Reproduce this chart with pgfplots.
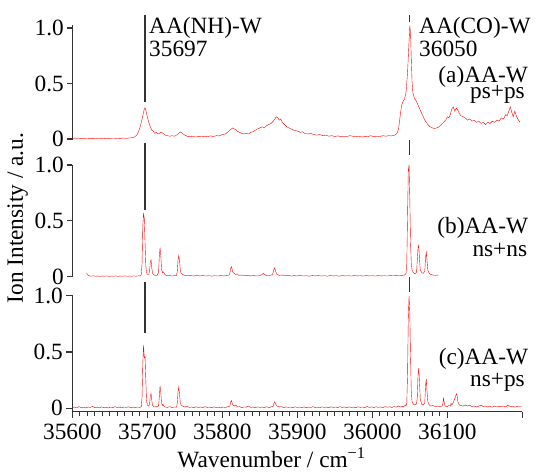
\documentclass[border=0pt]{standalone}
\usepackage{fontspec}
\setmainfont{Liberation Serif}
\usepackage{pgfplots}
\pgfplotsset{compat=1.18}
\newcommand\lf{\fontsize{23.4}{27}\selectfont}
\pgfplotsset{
  panel/.style={
    scale only axis, width=450bp,
    xmin=35600, xmax=36200,
    axis y line*=left,
    scaled x ticks=false, scaled y ticks=false,
    ytick={0,0.5,1}, yticklabels={\textrm{0},\textrm{0.5},\textrm{1.0}},
    tick align=outside,
    major tick length=5bp, minor tick length=4bp,
    axis line style={black!80, line width=1.2bp},
    every tick/.style={black!80, line width=1.2bp},
    ticklabel style={font=\lf},
    /pgf/number format/assume math mode=true,
    clip=false,
    cycle list={{red, line width=0.9bp, line join=round, mark=none}},
  },
  mk/.style={black!80, line width=1.3bp, mark=none},
}
\begin{document}
\begin{tikzpicture}[x=1bp,y=1bp]
% ---------------- panel (a) ----------------
\begin{axis}[panel, at={(0bp,333.45bp)}, anchor=south west,
  axis x line=none, xtick=\empty,
  height=114.9bp, ymin=-0.005, ymax=1.03]
\addplot table {
35600 0.005
35604 0.008
35608 0.004
35612 0.006
35616 0.003
35620 0.002
35624 0.004
35628 0.003
35632 0.005
35636 0.002
35640 0.004
35644 0.006
35648 0.003
35652 0.005
35656 0.004
35660 0.007
35664 0.005
35668 0.008
35672 0.006
35676 0.009
35680 0.012
35683 0.018
35686 0.035
35688 0.06
35690 0.10
35692 0.15
35694 0.21
35696 0.27
35697 0.28
35698 0.26
35700 0.20
35702 0.15
35704 0.11
35706 0.08
35708 0.07
35710 0.05
35712 0.06
35714 0.045
35716 0.05
35718 0.06
35720 0.055
35722 0.045
35724 0.035
35727 0.03
35730 0.025
35733 0.03
35736 0.025
35739 0.035
35742 0.05
35744 0.065
35746 0.055
35748 0.045
35750 0.035
35753 0.025
35756 0.02
35760 0.025
35764 0.018
35768 0.022
35772 0.02
35776 0.025
35780 0.02
35784 0.028
35788 0.022
35792 0.03
35796 0.028
35800 0.04
35804 0.045
35807 0.06
35810 0.08
35812 0.09
35814 0.10
35816 0.09
35818 0.085
35820 0.07
35823 0.06
35826 0.05
35829 0.045
35832 0.05
35835 0.045
35838 0.06
35841 0.065
35844 0.08
35847 0.09
35850 0.10
35853 0.11
35856 0.10
35859 0.12
35862 0.13
35865 0.14
35868 0.16
35870 0.18
35872 0.20
35874 0.19
35876 0.17
35878 0.18
35880 0.15
35883 0.13
35886 0.11
35889 0.10
35892 0.09
35895 0.08
35898 0.075
35901 0.07
35904 0.06
35907 0.065
35910 0.05
35914 0.045
35918 0.05
35922 0.04
35926 0.035
35930 0.04
35934 0.03
35938 0.035
35942 0.025
35946 0.03
35950 0.022
35954 0.028
35958 0.02
35962 0.025
35966 0.022
35970 0.03
35974 0.025
35978 0.02
35982 0.025
35986 0.018
35990 0.022
35994 0.02
35998 0.03
36002 0.02
36006 0.025
36010 0.022
36014 0.03
36018 0.025
36022 0.03
36026 0.028
36030 0.035
36033 0.05
36035 0.09
36037 0.20
36039 0.30
36041 0.34
36043 0.36
36045 0.42
36047 0.60
36049 0.88
36050 1.02
36051 0.95
36052 0.72
36053 0.52
36054 0.42
36056 0.37
36058 0.35
36060 0.32
36062 0.29
36064 0.26
36066 0.23
36068 0.20
36070 0.17
36072 0.15
36074 0.13
36077 0.11
36080 0.10
36083 0.095
36086 0.10
36089 0.11
36092 0.13
36095 0.15
36098 0.17
36100 0.20
36102 0.19
36104 0.22
36106 0.27
36108 0.29
36110 0.25
36112 0.28
36114 0.26
36116 0.23
36118 0.21
36121 0.20
36124 0.19
36127 0.17
36130 0.18
36133 0.16
36136 0.17
36139 0.15
36142 0.16
36145 0.14
36148 0.15
36151 0.13
36154 0.15
36157 0.14
36160 0.16
36163 0.15
36166 0.17
36169 0.16
36172 0.19
36175 0.18
36178 0.22
36180 0.21
36182 0.25
36184 0.29
36186 0.24
36188 0.20
36190 0.25
36192 0.21
36194 0.18
36197 0.15
};
\addplot[mk] coordinates {(35697,1.117) (35697,0.333)};
\addplot[mk] coordinates {(36050,1.117) (36050,1.054)};
\node[anchor=base west, inner sep=0, font=\lf] at (axis cs:35702.3,0.950) {AA(NH)-W};
\node[anchor=base west, inner sep=0, font=\lf] at (axis cs:35702.3,0.741) {35697};
\node[anchor=base west, inner sep=0, font=\lf] at (axis cs:36062.3,0.950) {AA(CO)-W};
\node[anchor=base west, inner sep=0, font=\lf] at (axis cs:36062.3,0.741) {36050};
\node[anchor=base east, inner sep=0, font=\lf] at (axis cs:36207.6,0.512) {(a)AA-W};
\node[anchor=base east, inner sep=0, font=\lf] at (axis cs:36203.6,0.362) {ps+ps};
\end{axis}
% ---------------- panel (b) ----------------
\begin{axis}[panel, at={(0bp,196.3bp)}, anchor=south west,
  axis x line=none, xtick=\empty,
  height=111.7bp, ymin=0, ymax=1]
\addplot table {
35619 0.035
35620 0.02
35622 0.008
35625 0.005
35628 0.008
35631 0.004
35634 0.006
35637 0.003
35640 0.006
35643 0.004
35646 0.007
35649 0.003
35652 0.006
35655 0.004
35658 0.007
35661 0.003
35664 0.006
35667 0.004
35670 0.007
35673 0.004
35676 0.006
35679 0.004
35682 0.007
35685 0.005
35688 0.007
35691 0.008
35692 0.02
35693 0.12
35694 0.45
35695 0.57
35696 0.52
35697 0.30
35698 0.10
35699 0.04
35700 0.02
35702 0.02
35703 0.05
35704 0.13
35705 0.15
35706 0.08
35707 0.03
35709 0.015
35711 0.01
35713 0.012
35715 0.04
35716 0.18
35717 0.26
35718 0.19
35719 0.07
35720 0.035
35721 0.045
35722 0.035
35724 0.015
35727 0.008
35730 0.01
35733 0.006
35736 0.009
35739 0.012
35740 0.05
35741 0.15
35742 0.19
35743 0.14
35744 0.06
35745 0.03
35747 0.02
35750 0.012
35754 0.008
35758 0.01
35762 0.006
35766 0.012
35770 0.007
35774 0.01
35778 0.006
35782 0.009
35786 0.005
35790 0.009
35794 0.006
35798 0.01
35802 0.007
35806 0.01
35809 0.015
35810 0.03
35811 0.07
35812 0.09
35813 0.07
35814 0.04
35816 0.03
35818 0.02
35820 0.025
35822 0.012
35826 0.015
35830 0.008
35834 0.012
35838 0.007
35842 0.01
35846 0.006
35850 0.01
35853 0.02
35855 0.03
35857 0.015
35860 0.01
35864 0.012
35867 0.02
35868 0.04
35869 0.07
35870 0.08
35871 0.05
35873 0.02
35876 0.012
35880 0.015
35884 0.008
35888 0.012
35892 0.006
35896 0.01
35900 0.007
35904 0.011
35908 0.006
35912 0.009
35916 0.005
35920 0.01
35924 0.007
35928 0.01
35932 0.006
35936 0.009
35940 0.005
35944 0.01
35948 0.007
35952 0.009
35956 0.005
35960 0.01
35964 0.007
35968 0.009
35972 0.006
35976 0.01
35980 0.007
35984 0.009
35988 0.006
35992 0.01
35996 0.007
36000 0.009
36004 0.006
36008 0.01
36012 0.007
36016 0.009
36020 0.006
36024 0.01
36028 0.008
36032 0.01
36036 0.008
36040 0.012
36043 0.015
36045 0.03
36046 0.12
36047 0.55
36048 0.95
36049 1.00
36050 0.70
36051 0.30
36052 0.12
36053 0.06
36055 0.035
36057 0.025
36059 0.04
36060 0.15
36061 0.26
36062 0.28
36063 0.15
36064 0.06
36066 0.035
36068 0.03
36070 0.05
36071 0.17
36072 0.22
36073 0.14
36074 0.06
36076 0.03
36078 0.02
36081 0.015
36084 0.012
36087 0.015
36088 0.01
};
\addplot[mk] coordinates {(35697,1.197) (35697,0.597)};
\addplot[mk] coordinates {(36050,1.224) (36050,1.09)};
\node[anchor=base east, inner sep=0, font=\lf] at (axis cs:36208,0.389) {(b)AA-W};
\node[anchor=base east, inner sep=0, font=\lf] at (axis cs:36206.7,0.179) {ns+ns};
\node[rotate=90, anchor=base, inner sep=0, font=\lf] at (axis description cs:-0.1096,0.525) {Ion Intensity / a.u.};
\end{axis}
% ---------------- panel (c) ----------------
\begin{axis}[panel, at={(0bp,61.3bp)}, anchor=south west,
  height=116.5bp, ymin=-0.03, ymax=1.005,
  axis x line*=bottom,
  xtick={35600,35700,35800,35900,36000,36100},
  xticklabels={\textrm{35600},\textrm{35700},\textrm{35800},\textrm{35900},\textrm{36000},\textrm{36100}},
  xticklabel style={yshift=-3bp},
  minor x tick num=9,
  extra x ticks={36200}, extra x tick labels={},
  major tick length=6bp]
\addplot table {
35600 0.005
35603 0.012
35606 0.004
35609 0.015
35612 0.006
35615 0.010
35618 0.003
35621 0.012
35624 0.007
35627 0.018
35630 0.005
35633 0.010
35636 0.004
35639 0.013
35642 0.006
35645 0.009
35648 0.003
35651 0.012
35654 0.006
35657 0.015
35660 0.005
35663 0.010
35666 0.004
35669 0.012
35672 0.007
35675 0.014
35678 0.005
35681 0.011
35684 0.006
35687 0.012
35690 0.008
35692 0.015
35693 0.10
35694 0.40
35695 0.56
35696 0.45
35697 0.46
35698 0.25
35699 0.07
35700 0.03
35702 0.02
35703 0.04
35704 0.11
35705 0.13
35706 0.07
35707 0.025
35709 0.012
35712 0.015
35715 0.02
35716 0.10
35717 0.20
35718 0.14
35719 0.05
35720 0.025
35721 0.035
35722 0.02
35724 0.012
35727 0.008
35730 0.015
35733 0.006
35736 0.012
35739 0.01
35740 0.05
35741 0.15
35742 0.19
35743 0.12
35744 0.05
35745 0.03
35747 0.02
35750 0.012
35753 0.018
35756 0.008
35759 0.012
35762 0.005
35765 0.014
35768 0.007
35771 0.012
35774 0.006
35777 0.015
35780 0.008
35783 0.011
35786 0.005
35789 0.013
35792 0.006
35795 0.010
35798 0.004
35801 0.012
35804 0.007
35807 0.013
35810 0.02
35811 0.05
35812 0.07
35813 0.05
35814 0.03
35816 0.02
35818 0.03
35820 0.012
35823 0.015
35826 0.006
35829 0.012
35832 0.01
35835 0.02
35838 0.008
35841 0.012
35844 0.005
35847 0.013
35850 0.008
35853 0.011
35856 0.006
35859 0.014
35862 0.007
35865 0.012
35868 0.02
35869 0.045
35870 0.06
35871 0.04
35873 0.02
35876 0.012
35879 0.015
35882 0.006
35885 0.013
35888 0.008
35891 0.012
35894 0.005
35897 0.014
35900 0.007
35903 0.012
35906 0.006
35909 0.013
35912 0.005
35915 0.011
35918 0.007
35921 0.015
35924 0.006
35927 0.012
35930 0.004
35933 0.013
35936 0.008
35939 0.011
35942 0.005
35945 0.014
35948 0.007
35951 0.012
35954 0.006
35957 0.015
35960 0.008
35963 0.012
35966 0.005
35969 0.013
35972 0.007
35975 0.011
35978 0.005
35981 0.014
35984 0.008
35987 0.012
35990 0.006
35993 0.016
35996 0.008
35999 0.013
36002 0.006
36005 0.014
36008 0.009
36011 0.012
36014 0.006
36017 0.015
36020 0.01
36023 0.014
36026 0.007
36029 0.016
36032 0.01
36035 0.02
36038 0.012
36040 0.018
36042 0.015
36044 0.03
36045 0.02
36046 0.05
36047 0.30
36048 0.80
36049 1.00
36050 0.85
36051 0.45
36052 0.15
36053 0.06
36055 0.035
36057 0.03
36059 0.04
36060 0.10
36061 0.30
36062 0.36
36063 0.22
36064 0.08
36066 0.035
36068 0.03
36070 0.05
36071 0.20
36072 0.26
36073 0.15
36074 0.06
36076 0.03
36078 0.02
36081 0.025
36084 0.015
36087 0.02
36090 0.015
36093 0.02
36094 0.04
36095 0.09
36096 0.05
36097 0.02
36100 0.015
36102 0.025
36104 0.02
36105 0.045
36106 0.03
36108 0.05
36110 0.09
36111 0.10
36112 0.13
36113 0.12
36114 0.06
36116 0.03
36118 0.025
36121 0.02
36124 0.03
36127 0.02
36130 0.028
36133 0.015
36136 0.02
36139 0.012
36142 0.018
36145 0.03
36148 0.015
36151 0.02
36154 0.012
36157 0.018
36160 0.01
36163 0.02
36166 0.012
36169 0.018
36172 0.015
36175 0.02
36178 0.012
36181 0.03
36184 0.015
36187 0.02
36190 0.01
36193 0.018
36196 0.012
36199 0.015
};
\addplot[mk] coordinates {(35697,1.122) (35697,0.669)};
\addplot[mk] coordinates {(36050,1.168) (36050,1.033)};
\node[anchor=base east, inner sep=0, font=\lf] at (axis cs:36208,0.385) {(c)AA-W};
\node[anchor=base east, inner sep=0, font=\lf] at (axis cs:36203.6,0.198) {ns+ps};
\node[anchor=base, inner sep=0, font=\lf] at (axis description cs:0.4427,-0.48) {Wavenumber / cm\textsuperscript{\char"2212 1}};
\end{axis}
\pgfresetboundingbox
\path (-72.3bp,0bp) rectangle (463.7bp,473bp);
\end{tikzpicture}
\end{document}
